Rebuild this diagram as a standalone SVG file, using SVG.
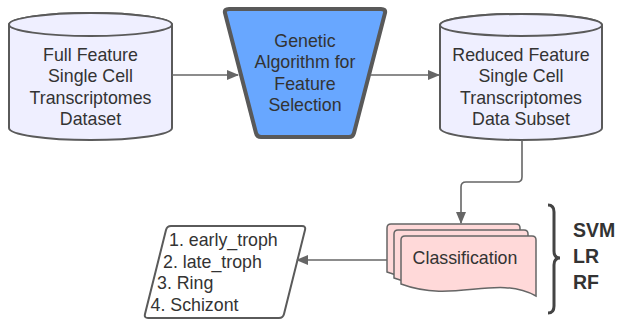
<svg xmlns="http://www.w3.org/2000/svg" width="619" height="320" viewBox="0 0 619 320">
<style>
.t{font-family:"Liberation Sans",Arial,sans-serif;font-size:17.8px;fill:#333;}
.c{text-anchor:middle;}
.b{font-family:"Liberation Sans",Arial,sans-serif;font-size:19.5px;font-weight:bold;fill:#333;}
.cyl{fill:#efefff;stroke:#5a5a5a;stroke-width:2;}
.doc{fill:#ffd9d9;stroke:#666;stroke-width:1.5;}
.conn{fill:none;stroke:#666;stroke-width:1.6;}
</style>
<defs>
<marker id="ah" markerWidth="12" markerHeight="10" refX="11" refY="5" orient="auto" markerUnits="userSpaceOnUse">
<path d="M0,0 L12,5 L0,10 Z" fill="#666"/>
</marker>
</defs>
<g id="full-dataset">
<path class="cyl" d="M9,24.5 L9,128 A81.5,12 0 0 0 172,128 L172,24.5 A81.5,11.5 0 0 0 9,24.5 Z"/>
<ellipse class="cyl" cx="90.5" cy="24.5" rx="81.5" ry="11.5"/>
<text class="t c" x="90.5" y="61">Full Feature</text>
<text class="t c" x="90.5" y="82.3">Single Cell</text>
<text class="t c" x="90.5" y="103.7">Transcriptomes</text>
<text class="t c" x="90.5" y="125">Dataset</text>
</g>
<g id="genetic-algorithm">
<path d="M229,9 L381,9 Q386,9 385,13 L354,133 Q353,137 349,137 L261,137 Q257,137 256,133 L225,13 Q224,9 229,9 Z" fill="#68a7ff" stroke="#595959" stroke-width="4" stroke-linejoin="round"/>
<text class="t c" x="305" y="47">Genetic</text>
<text class="t c" x="305" y="68.3">Algorithm for</text>
<text class="t c" x="305" y="89.7">Feature</text>
<text class="t c" x="305" y="111">Selection</text>
</g>
<g id="reduced-subset">
<path class="cyl" d="M440,25 L440,128 A81,12 0 0 0 602,128 L602,25 A81,11 0 0 0 440,25 Z"/>
<ellipse class="cyl" cx="521" cy="25" rx="81" ry="11"/>
<text class="t c" x="521" y="61">Reduced Feature</text>
<text class="t c" x="521" y="82.3">Single Cell</text>
<text class="t c" x="521" y="103.7">Transcriptomes</text>
<text class="t c" x="521" y="125">Data Subset</text>
</g>
<g id="classification">
<path class="doc" d="M391,224 L516,224 Q520,224 520,228 L520,284 C480,262 440,292 387,272 L387,228 Q387,224 391,224 Z"/>
<path class="doc" d="M398,230 L524,230 Q528,230 528,234 L528,290 C488,268 448,298 394,278 L394,234 Q394,230 398,230 Z"/>
<path class="doc" d="M405,236 L532,236 Q536,236 536,240 L536,296 C495,274 455,304 401,284 L401,240 Q401,236 405,236 Z"/>
<text class="t c" x="465" y="264">Classification</text>
</g>
<g id="classes">
<path d="M171,226 L302,226 Q306,226 305,230 L284,314 Q283,318 279,318 L148,318 Q144,318 145,314 L166,230 Q167,226 171,226 Z" fill="#fff" stroke="#5a5a5a" stroke-width="2"/>
<text class="t" x="169" y="246">1. early_troph</text>
<text class="t" x="163" y="267.5">2. late_troph</text>
<text class="t" x="157" y="289">3. Ring</text>
<text class="t" x="150.5" y="310.5">4. Schizont</text>
</g>
<g id="models">
<path d="M548,205 Q554,205 554,212 L554,251 Q554,258 560,258 Q554,258 554,265 L554,306 Q554,313 548,313" fill="none" stroke="#444" stroke-width="3"/>
<text class="b" x="573" y="237">SVM</text>
<text class="b" x="573" y="263">LR</text>
<text class="b" x="573" y="289">RF</text>
</g>
<g id="connectors">
<path class="conn" d="M172,75 L238,75" marker-end="url(#ah)"/>
<path class="conn" d="M370,75 L439,75" marker-end="url(#ah)"/>
<path class="conn" d="M522,140 L522,177 Q522,182 517,182 L466,182 Q461,182 461,187 L461,223" marker-end="url(#ah)"/>
<path class="conn" d="M387,260 L297,260" marker-end="url(#ah)"/>
</g>
</svg>
